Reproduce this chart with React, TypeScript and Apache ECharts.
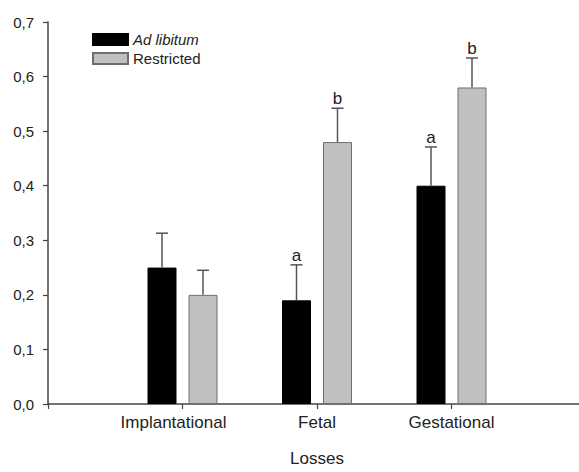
import React, { useEffect, useRef } from "react";
import * as echarts from "echarts";

const categories = ["Implantational", "Fetal", "Gestational"];
const seriesNames = ["Ad libitum", "Restricted"];
const adLibitum = [0.25, 0.19, 0.4];
const adLibitumErr = [0.063, 0.065, 0.071];
const adLibitumLetters = ["", "a", "a"];
const restricted = [0.2, 0.48, 0.58];
const restrictedErr = [0.045, 0.062, 0.054];
const restrictedLetters = ["", "b", "b"];
const yTicks = [0, 0.1, 0.2, 0.3, 0.4, 0.5, 0.6, 0.7];

const FONT = "'Liberation Sans', Arial, sans-serif";
const BAR_W = 29;
const BAR_GAP = 12;
const OFFSET = (BAR_W + BAR_GAP) / 2;

function errSeries(values: number[], errs: number[], letters: string[], dir: number) {
  return {
    type: "custom",
    z: 5,
    silent: true,
    data: values.map((v, i) => [i + 1, v, errs[i]]),
    renderItem: (params: any, api: any) => {
      const k = api.value(0);
      const v = api.value(1);
      const e = api.value(2);
      const letter = letters[params.dataIndex];
      const base = api.coord([k, v]);
      const top = api.coord([k, v + e]);
      const x = base[0] + dir * OFFSET;
      const children: any[] = [
        {
          type: "line",
          shape: { x1: x, y1: base[1], x2: x, y2: top[1] },
          style: { stroke: "#555", lineWidth: 1.5 },
        },
        {
          type: "line",
          shape: { x1: x - 6, y1: top[1], x2: x + 6, y2: top[1] },
          style: { stroke: "#555", lineWidth: 1.5 },
        },
      ];
      if (letter) {
        children.push({
          type: "text",
          style: {
            x: x,
            y: top[1] - 1,
            text: letter,
            fill: "#222",
            font: `17px ${FONT}`,
            textAlign: "center",
            textVerticalAlign: "bottom",
          },
        });
      }
      return { type: "group", children };
    },
  };
}

export default function App() {
  const ref = useRef<HTMLDivElement>(null);
  useEffect(() => {
    if (!ref.current) return;
    const chart = echarts.init(ref.current, null, { renderer: "svg" });
    chart.setOption({
      animation: false,
      backgroundColor: "#fff",
      textStyle: { fontFamily: FONT },
      legend: {
        orient: "vertical",
        left: 92,
        top: 32,
        padding: 0,
        itemWidth: 35,
        itemHeight: 11,
        itemGap: 4,
        icon: "rect",
        textStyle: { fontSize: 15, color: "#222", fontFamily: FONT },
        data: [
          { name: seriesNames[0], textStyle: { fontStyle: "italic" } },
          { name: seriesNames[1] },
        ],
      },
      grid: { left: 48, right: 0, top: 22, bottom: 62 },
      xAxis: {
        type: "value",
        min: 0,
        max: 4,
        interval: 1,
        name: "Losses",
        nameLocation: "middle",
        nameGap: 46,
        nameTextStyle: { fontSize: 17, color: "#222", fontFamily: FONT, verticalAlign: "top" },
        splitLine: { show: false },
        axisLine: { show: true, onZero: false, lineStyle: { color: "#444", width: 1.5 } },
        axisTick: { show: true, length: 5, lineStyle: { color: "#444", width: 1.2 } },
        axisLabel: {
          margin: 10,
          fontSize: 17,
          color: "#222",
          fontFamily: FONT,
          formatter: (v: number) => {
            const name = categories[Math.round(v) - 1];
            if (!name) return "";
            return Math.round(v) === 1 ? `{imp|${name}}` : name;
          },
          rich: { imp: { fontSize: 17, color: "#222", fontFamily: FONT, padding: [0, 18, 0, 0] } },
        },
      },
      yAxis: {
        type: "value",
        min: 0,
        max: 0.7,
        interval: 0.1,
        splitLine: { show: false },
        axisLine: { show: true, lineStyle: { color: "#444", width: 1.5 } },
        axisTick: { show: true, length: 5, lineStyle: { color: "#444", width: 1.2 } },
        axisLabel: {
          margin: 14,
          fontSize: 15,
          color: "#222",
          fontFamily: FONT,
          formatter: (v: number) => {
            const t = yTicks.find((y) => Math.abs(y - v) < 1e-6);
            return (t !== undefined ? t : v).toFixed(1).replace(".", ",");
          },
        },
      },
      series: [
        {
          name: seriesNames[0],
          type: "bar",
          barWidth: BAR_W,
          barGap: `${(BAR_GAP / BAR_W) * 100}%`,
          itemStyle: { color: "#000", borderColor: "#000", borderWidth: 1 },
          data: adLibitum.map((v, i) => [i + 1, v]),
        },
        {
          name: seriesNames[1],
          type: "bar",
          barWidth: BAR_W,
          barGap: `${(BAR_GAP / BAR_W) * 100}%`,
          itemStyle: { color: "#c0c0c0", borderColor: "#6e6e6e", borderWidth: 1 },
          data: restricted.map((v, i) => [i + 1, v]),
        },
        errSeries(adLibitum, adLibitumErr, adLibitumLetters, -1),
        errSeries(restricted, restrictedErr, restrictedLetters, 1),
      ],
    });
    return () => chart.dispose();
  }, []);
  return (
    <div
      style={{
        position: "fixed",
        left: 0,
        top: 0,
        width: 579,
        height: 472,
        overflow: "hidden",
        background: "#fff",
      }}
    >
      <div ref={ref} style={{ width: 589, height: 472 }} />
    </div>
  );
}
